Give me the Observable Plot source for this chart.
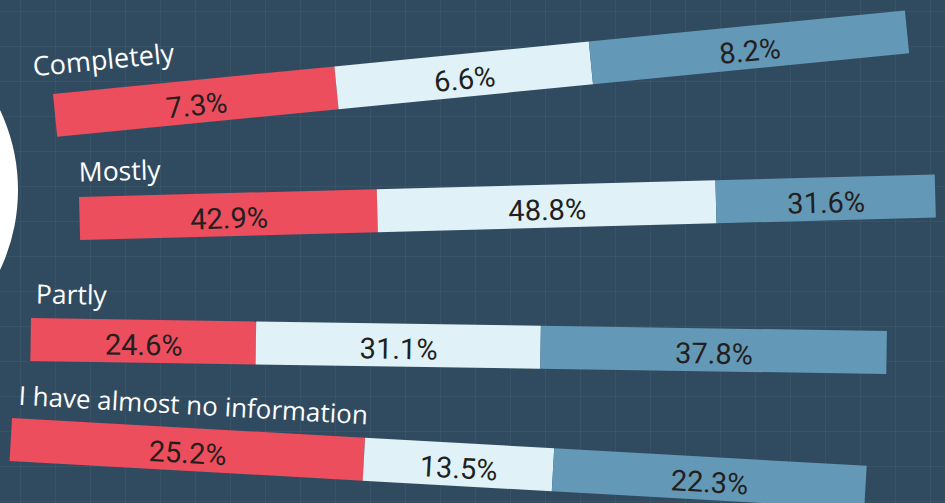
<!DOCTYPE html>
<html><head><meta charset="utf-8">
<script src="https://cdn.jsdelivr.net/npm/d3@7"></script>
<script src="https://cdn.jsdelivr.net/npm/@observablehq/plot@0.6"></script>
<style>
html,body{margin:0;padding:0;background:#304b5f;}
#stage{position:relative;width:945px;height:503px;overflow:hidden;background-color:#304b5f;
background-image:linear-gradient(to right, rgba(255,255,255,0.045) 1px, transparent 1px),linear-gradient(to bottom, rgba(255,255,255,0.045) 1px, transparent 1px);
background-size:35px 35px;background-position:20px 11px;}
#circle{position:absolute;left:-356px;top:3px;width:374px;height:374px;border-radius:50%;background:#fff;}
</style></head><body>
<div id="stage"><div id="circle"></div></div>
<script>
// ---- data ----
const categories = ["Completely", "Mostly", "Partly", "I have almost no information"];
const seriesNames = ["Group 1", "Group 2", "Group 3"];
const completely = [7.3, 6.6, 8.2];
const mostly = [42.9, 48.8, 31.6];
const partly = [24.6, 31.1, 37.8];
const noInformation = [25.2, 13.5, 22.3];
const seriesValues = [completely, mostly, partly, noInformation];

// ---- style / layout ----
const colors = ["#ec4e5e", "#e0f2f7", "#6399b7"];
const layout = [
  {x: 53, y: 94, angle: -5.6, labelDx: -18, labelDy: -20, labelSize: 27},
  {x: 79, y: 197, angle: -1.5, labelDx: 0, labelDy: -16, labelSize: 26.5},
  {x: 31, y: 318, angle: 0.87, labelDx: 4, labelDy: -15, labelSize: 26.5},
  {x: 12, y: 418, angle: 3.2, labelDx: 5, labelDy: -14, labelSize: 26}
];
const W = 856, H = 43, ml = 40, mt = 45, mr = 10, mb = 10;

const stage = document.getElementById("stage");
categories.forEach((cat, i) => {
  const rows = seriesNames.map((s, j) => ({category: cat, series: s, value: seriesValues[i][j]}));
  const L = layout[i];
  const svg = Plot.plot({
    width: W + ml + mr, height: H + mt + mb,
    marginLeft: ml, marginTop: mt, marginRight: mr, marginBottom: mb,
    x: {axis: null, domain: [0, 1]},
    color: {domain: seriesNames, range: colors},
    style: {background: "transparent", overflow: "visible"},
    marks: [
      Plot.barX(rows, Plot.stackX({x: "value", fill: "series", offset: "normalize"})),
      Plot.text(rows, Plot.stackX({
        x: "value", offset: "normalize",
        text: d => d.value.toFixed(1) + "%",
        fill: "#231f20", fontSize: 29, fontWeight: 400, fontFamily: "Roboto", dy: 4
      })),
      Plot.text([cat], {
        frameAnchor: "top-left", text: d => d, textAnchor: "start", lineAnchor: "bottom",
        dx: L.labelDx, dy: L.labelDy, fill: "#ffffff",
        fontSize: L.labelSize, fontFamily: "Open Sans", fontWeight: 400
      })
    ]
  });
  svg.style.position = "absolute";
  svg.style.left = (L.x - ml) + "px";
  svg.style.top = (L.y - mt) + "px";
  svg.style.transformOrigin = ml + "px " + mt + "px";
  svg.style.transform = "rotate(" + L.angle + "deg)";
  svg.style.overflow = "visible";
  stage.appendChild(svg);
});
</script>
</body></html>
